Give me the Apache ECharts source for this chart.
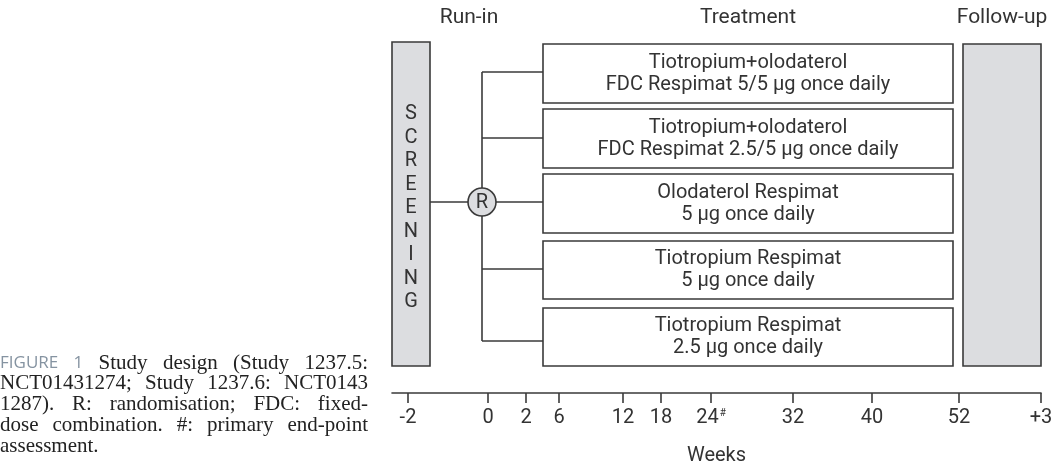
<!DOCTYPE html>
<html>
<head>
<meta charset="utf-8">
<script src="https://cdn.jsdelivr.net/npm/echarts@6/dist/echarts.min.js"></script>
<style>html,body{margin:0;padding:0;background:#fff}#c{width:1064px;height:468px}</style>
</head>
<body>
<div id="c"></div>
<script>
// ---- data ----
const phaseLabels = ['Run-in', 'Treatment', 'Follow-up'];
const screeningLetters = ['S','C','R','E','E','N','I','N','G'];
const armLines = [
  ['Tiotropium+olodaterol', 'FDC Respimat 5/5 µg once daily'],
  ['Tiotropium+olodaterol', 'FDC Respimat 2.5/5 µg once daily'],
  ['Olodaterol Respimat', '5 µg once daily'],
  ['Tiotropium Respimat', '5 µg once daily'],
  ['Tiotropium Respimat', '2.5 µg once daily']
];
const randomLabel = 'R';
const weekLabels = ['-2', '0', '2', '6', '12', '18', '24', '32', '40', '52', '+3'];
const weekMarks = ['', '', '', '', '', '', '#', '', '', '', ''];
// schematic (non-linear) position of each week tick along the timeline
const weekPos = [408, 488, 526, 559, 623, 661, 711, 793, 872, 959, 1041];
const axisName = 'Weeks';
const captionLines = [
  'FIGURE 1 Study design (Study 1237.5:',
  'NCT01431274; Study 1237.6: NCT0143',
  '1287). R: randomisation; FDC: fixed-',
  'dose combination. #: primary end-point',
  'assessment.'
];

// ---- layout (schematic units) ----
const L = {
  screen: {x0: 392, x1: 430, y0: 42, y1: 366, letterY: 208, letterStep: 23.5},
  arm: {x0: 543, x1: 953, tops: [44, 109, 174, 241, 308], bottoms: [103, 168, 233, 299, 366], branchY: [72, 138, 202, 269, 341]},
  follow: {x0: 963, x1: 1041, y0: 44, y1: 366},
  trunkX: 482, circle: {x: 482, y: 202, r: 14},
  phaseY: 17, phaseX: [469, 748, 1002],
  caption: {x: 0, right: 368, y0: 363, step: 20.8}
};
const INK = '#3a3a3a', TXT = '#333', GRAY = '#dcdde0';
const SANS = 'Roboto, "Noto Sans", sans-serif';
const LW = 1.6;

const chart = echarts.init(document.getElementById('c'), null, {renderer: 'canvas'});

function rectEl(p0, p1, fill) {
  return {type: 'rect', shape: {x: p0[0], y: p0[1], width: p1[0] - p0[0], height: p1[1] - p0[1]},
    style: {fill: fill, stroke: INK, lineWidth: LW}};
}
function textEl(x, y, text, size, extra) {
  return {type: 'text', style: Object.assign({x: x, y: y, text: text, font: size + 'px ' + SANS, fill: TXT,
    textAlign: 'center', textVerticalAlign: 'middle', align: 'center', verticalAlign: 'middle'}, extra || {})};
}

// caption, justified
const mc = document.createElement('canvas').getContext('2d');
const SERIF_FONT = '21px "Liberation Serif", "DejaVu Serif", serif';
const FIG_FONT = '17px "Open Sans", "Noto Sans", sans-serif';
const captionEls = [];
captionLines.forEach((line, li) => {
  const words = line.split(' ');
  const fonts = words.map((w, wi) => (li === 0 && wi < 2) ? FIG_FONT : SERIF_FONT);
  const widths = words.map((w, wi) => { mc.font = fonts[wi]; return mc.measureText(w).width; });
  const total = widths.reduce((a, b) => a + b, 0);
  const last = li === captionLines.length - 1;
  mc.font = SERIF_FONT;
  const gap = last ? mc.measureText(' ').width : (L.caption.right - L.caption.x - total) / (words.length - 1);
  let x = L.caption.x;
  words.forEach((w, wi) => {
    captionEls.push({type: 'text', x: x, y: L.caption.y0 + li * L.caption.step,
      style: {text: w, font: fonts[wi], fill: fonts[wi] === FIG_FONT ? '#8593a1' : '#222',
        textVerticalAlign: 'middle', verticalAlign: 'middle'}});
    x += widths[wi] + gap;
  });
});

const option = {
  animation: false,
  grid: [
    {left: 0, right: 0, top: 0, bottom: 0},
    {left: 392, right: 23, top: 383, height: 10}
  ],
  xAxis: [
    {gridIndex: 0, type: 'value', min: 0, max: 1064, show: false},
    {gridIndex: 1, type: 'value', min: 392, max: 1041, splitLine: {show: false},
      axisLine: {show: true, lineStyle: {color: INK, width: LW}},
      axisTick: {show: true, customValues: weekPos, length: 10, lineStyle: {color: INK, width: LW}},
      axisLabel: {show: true, customValues: weekPos, margin: 15, color: TXT, fontSize: 20, fontFamily: SANS,
        formatter: function (v) {
          const i = weekPos.indexOf(v);
          if (i < 0) return '';
          return weekMarks[i] ? '{n|' + weekLabels[i] + '}{s|' + weekMarks[i] + '}' : '{n|' + weekLabels[i] + '}';
        },
        rich: {n: {fontSize: 20, fontFamily: SANS, color: TXT}, s: {fontSize: 10, fontFamily: SANS, color: TXT, padding: [0, 0, 9, 1]}}},
      name: axisName, nameLocation: 'middle', nameGap: 53,
      nameTextStyle: {fontSize: 20, fontFamily: SANS, color: TXT}}
  ],
  yAxis: [
    {gridIndex: 0, type: 'value', min: 0, max: 468, inverse: true, show: false},
    {gridIndex: 1, type: 'value', min: 0, max: 1, show: false}
  ],
  graphic: {elements: captionEls},
  series: [
    // phase headers
    {type: 'custom', coordinateSystem: 'cartesian2d', xAxisIndex: 0, yAxisIndex: 0,
      data: phaseLabels.map((_, i) => [i]),
      renderItem: function (params, api) {
        const i = api.value(0);
        const p = api.coord([L.phaseX[i], L.phaseY]);
        return textEl(p[0], p[1] + 1, phaseLabels[i], 21);
      }},
    // screening box
    {type: 'custom', coordinateSystem: 'cartesian2d', xAxisIndex: 0, yAxisIndex: 0,
      data: [[0]],
      renderItem: function (params, api) {
        const s = L.screen;
        const p0 = api.coord([s.x0, s.y0]), p1 = api.coord([s.x1, s.y1]);
        const children = [rectEl(p0, p1, GRAY)];
        const n = screeningLetters.length;
        screeningLetters.forEach((ch, k) => {
          const p = api.coord([(s.x0 + s.x1) / 2, s.letterY + (k - (n - 1) / 2) * s.letterStep]);
          children.push(textEl(p[0], p[1], ch, 20));
        });
        return {type: 'group', children: children};
      }},
    // branch lines + randomisation node
    {type: 'custom', coordinateSystem: 'cartesian2d', xAxisIndex: 0, yAxisIndex: 0,
      data: [[0]],
      renderItem: function (params, api) {
        const a = L.arm, c = L.circle;
        const children = [];
        const ln = (x1, y1, x2, y2) => {
          const q0 = api.coord([x1, y1]), q1 = api.coord([x2, y2]);
          children.push({type: 'line', shape: {x1: q0[0], y1: q0[1], x2: q1[0], y2: q1[1]}, style: {stroke: INK, lineWidth: LW}});
        };
        ln(L.screen.x1, c.y, L.trunkX, c.y);
        ln(L.trunkX, a.branchY[0], L.trunkX, a.branchY[a.branchY.length - 1]);
        a.branchY.forEach(y => ln(L.trunkX, y, a.x0, y));
        const pc = api.coord([c.x, c.y]);
        children.push({type: 'circle', shape: {cx: pc[0], cy: pc[1], r: c.r}, style: {fill: GRAY, stroke: INK, lineWidth: LW}});
        children.push(textEl(pc[0], pc[1] + 1, randomLabel, 20));
        return {type: 'group', children: children};
      }},
    // treatment arms
    {type: 'custom', coordinateSystem: 'cartesian2d', xAxisIndex: 0, yAxisIndex: 0,
      data: armLines.map((_, i) => [i]),
      renderItem: function (params, api) {
        const i = api.value(0), a = L.arm;
        const p0 = api.coord([a.x0, a.tops[i]]), p1 = api.coord([a.x1, a.bottoms[i]]);
        return {type: 'group', children: [
          rectEl(p0, p1, '#fff'),
          textEl((p0[0] + p1[0]) / 2, (p0[1] + p1[1]) / 2, armLines[i].join('\n'), 20, {lineHeight: 22})
        ]};
      }},
    // follow-up box
    {type: 'custom', coordinateSystem: 'cartesian2d', xAxisIndex: 0, yAxisIndex: 0,
      data: [[0]],
      renderItem: function (params, api) {
        const f = L.follow;
        return rectEl(api.coord([f.x0, f.y0]), api.coord([f.x1, f.y1]), GRAY);
      }}
  ]
};
chart.setOption(option);
</script>
</body>
</html>
